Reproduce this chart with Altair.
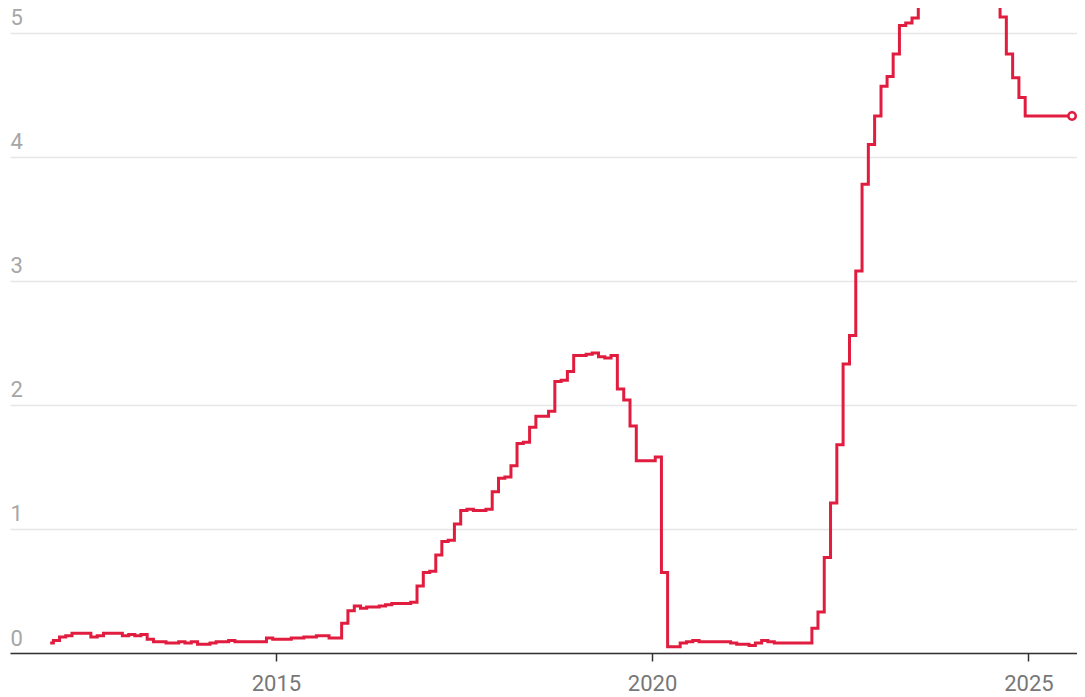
import altair as alt
import pandas as pd

# Monthly effective federal funds rate, Jan 2012 - Aug 2025 (%)
start_month = "2012-01-01"
rates_2012 = [0.08, 0.10, 0.13, 0.14, 0.16, 0.16, 0.16, 0.13, 0.14, 0.16, 0.16, 0.16]
rates_2013 = [0.14, 0.15, 0.14, 0.15, 0.11, 0.09, 0.09, 0.08, 0.08, 0.09, 0.08, 0.09]
rates_2014 = [0.07, 0.07, 0.08, 0.09, 0.09, 0.10, 0.09, 0.09, 0.09, 0.09, 0.09, 0.12]
rates_2015 = [0.11, 0.11, 0.11, 0.12, 0.12, 0.13, 0.13, 0.14, 0.14, 0.12, 0.12, 0.24]
rates_2016 = [0.34, 0.38, 0.36, 0.37, 0.37, 0.38, 0.39, 0.40, 0.40, 0.40, 0.41, 0.54]
rates_2017 = [0.65, 0.66, 0.79, 0.90, 0.91, 1.04, 1.15, 1.16, 1.15, 1.15, 1.16, 1.30]
rates_2018 = [1.41, 1.42, 1.51, 1.69, 1.70, 1.82, 1.91, 1.91, 1.95, 2.19, 2.20, 2.27]
rates_2019 = [2.40, 2.40, 2.41, 2.42, 2.39, 2.38, 2.40, 2.13, 2.04, 1.83, 1.55, 1.55]
rates_2020 = [1.55, 1.58, 0.65, 0.05, 0.05, 0.08, 0.09, 0.10, 0.09, 0.09, 0.09, 0.09]
rates_2021 = [0.09, 0.08, 0.07, 0.07, 0.06, 0.08, 0.10, 0.09, 0.08, 0.08, 0.08, 0.08]
rates_2022 = [0.08, 0.08, 0.20, 0.33, 0.77, 1.21, 1.68, 2.33, 2.56, 3.08, 3.78, 4.10]
rates_2023 = [4.33, 4.57, 4.65, 4.83, 5.06, 5.08, 5.12, 5.33, 5.33, 5.33, 5.33, 5.33]
rates_2024 = [5.33, 5.33, 5.33, 5.33, 5.33, 5.33, 5.33, 5.33, 5.13, 4.83, 4.64, 4.48]
rates_2025 = [4.33, 4.33, 4.33, 4.33, 4.33, 4.33, 4.33, 4.33]

x_tick_years = ["2015-01-01", "2020-01-01", "2025-01-01"]
x_domain = ["2011-06-20", "2025-08-25"]
y_ticks = [0, 1, 2, 3, 4, 5]
y_domain = [0, 5.2016]

values = (rates_2012 + rates_2013 + rates_2014 + rates_2015 + rates_2016 + rates_2017
          + rates_2018 + rates_2019 + rates_2020 + rates_2021 + rates_2022 + rates_2023
          + rates_2024 + rates_2025)
dates = pd.date_range(start_month, periods=len(values), freq="MS")
df = pd.DataFrame({"date": dates, "rate": values})
last = df.tail(1)

RED = "#e11d3f"

x_scale = alt.Scale(domain=[pd.Timestamp(d).isoformat() for d in x_domain])
y_scale = alt.Scale(domain=y_domain, nice=False, zero=True)

x_axis = alt.Axis(
    title=None,
    values=[pd.Timestamp(v).isoformat() for v in x_tick_years],
    format="%Y",
    grid=False,
    domainColor="#333333",
    domainWidth=1.5,
    tickColor="#333333",
    tickWidth=1.5,
    tickSize=8,
    labelFont="Roboto",
    labelFontSize=22,
    labelColor="#777777",
    labelBaseline="alphabetic",
    labelPadding=29,
)
y_axis = alt.Axis(
    title=None,
    values=y_ticks,
    format="d",
    domain=False,
    ticks=False,
    tickSize=0,
    grid=True,
    gridColor="#e6e6e6",
    gridWidth=1.5,
    labelFont="Roboto",
    labelFontSize=22,
    labelColor="#a6a6a6",
    labelAlign="left",
    labelBaseline="alphabetic",
    labelPadding=0,
    labelOffset=-8,
)

line = alt.Chart(df).mark_line(
    color=RED, strokeWidth=3, interpolate="step", clip=True
).encode(
    x=alt.X("date:T", scale=x_scale, axis=x_axis),
    y=alt.Y("rate:Q", scale=y_scale, axis=y_axis),
)

dot = alt.Chart(last).mark_point(
    shape="circle", size=55, filled=True, fill="white", stroke=RED, strokeWidth=2.5, opacity=1
).encode(
    x=alt.X("date:T", scale=x_scale),
    y=alt.Y("rate:Q", scale=y_scale),
)

chart = alt.layer(line, dot).properties(
    width=1067,
    height=645,
    autosize=alt.AutoSizeParams(type="none"),
    padding={"left": 2, "top": 0, "right": 0, "bottom": 44},
).configure_view(stroke=None)

chart.save("out.html", embed_options={"renderer": "svg", "actions": False})
